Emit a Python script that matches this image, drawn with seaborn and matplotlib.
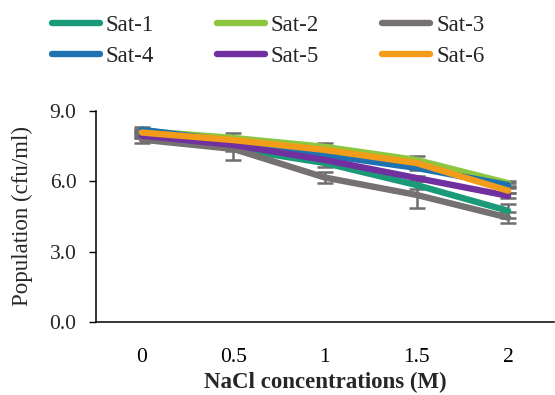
import numpy as np
import pandas as pd
import matplotlib
matplotlib.use("Agg")
import matplotlib.pyplot as plt
import seaborn as sns

# Data
conc = ["0", "0.5", "1", "1.5", "2"]
series = ["Sat-1", "Sat-2", "Sat-3", "Sat-4", "Sat-5", "Sat-6"]
sat1 = [8.00, 7.40, 6.78, 5.84, 4.74]
sat2 = [8.15, 7.85, 7.47, 6.91, 5.92]
sat3 = [7.78, 7.38, 6.16, 5.42, 4.45]
sat4 = [8.20, 7.70, 7.12, 6.57, 5.84]
sat5 = [7.95, 7.55, 6.91, 6.14, 5.38]
sat6 = [8.08, 7.76, 7.34, 6.78, 5.60]
err1 = [0.15, 0.10, 0.15, 0.18, 0.30]
err2 = [0.10, 0.20, 0.15, 0.15, 0.10]
err3 = [0.15, 0.45, 0.25, 0.58, 0.25]
err4 = [0.10, 0.10, 0.10, 0.10, 0.10]
err5 = [0.10, 0.10, 0.10, 0.10, 0.10]
err6 = [0.10, 0.15, 0.10, 0.10, 0.10]
colors = ["#1a9a78", "#8dc63f", "#767171", "#1f72b0", "#7030a0", "#f39c1a"]

values = [sat1, sat2, sat3, sat4, sat5, sat6]
errors = [err1, err2, err3, err4, err5, err6]

rows = []
for name, vals, errs in zip(series, values, errors):
    for i, (v, e) in enumerate(zip(vals, errs)):
        rows.append({"series": name, "x": i, "conc": conc[i], "value": v, "err": e})
df = pd.DataFrame(rows)

sns.set_theme(style="white")
plt.rcParams["font.family"] = ["Liberation Serif", "DejaVu Serif"]

fig = plt.figure(figsize=(5.55, 3.95), dpi=100)
ax = fig.add_axes([0.173, 0.185, 0.825, 0.534])

# error bars first so the thick lines sit mostly on top
for name in series:
    sub = df[df["series"] == name]
    ax.errorbar(sub["x"], sub["value"], yerr=sub["err"], fmt="none",
                ecolor="#6e6e6e", elinewidth=1.8, capsize=5.5, capthick=1.8,
                zorder=2)

sns.lineplot(data=df, x="x", y="value", hue="series", hue_order=series,
             palette=colors, linewidth=4.6, ax=ax, legend=False,
             solid_capstyle="round", zorder=3)

ax.set_xlim(-0.5, 4.5)
ax.set_ylim(0, 9)
ax.set_yticks([0, 3, 6, 9])
ax.set_yticklabels(["0.0", "3.0", "6.0", "9.0"])
ax.set_xticks(range(len(conc)))
ax.set_xticklabels(conc)
ax.set_xticks([0.5, 1.5, 2.5, 3.5, 4.5], minor=True)
ax.tick_params(axis="x", which="major", length=0, labelsize=15.5, pad=19, colors="black")
ax.tick_params(axis="x", which="minor", length=5, direction="in", width=1, color="black")
ax.tick_params(axis="y", length=5, direction="out", width=1, labelsize=15.5, color="black",
               left=True, pad=9)

for s in ["top", "right"]:
    ax.spines[s].set_visible(False)
for s in ["left", "bottom"]:
    ax.spines[s].set_color("black")
    ax.spines[s].set_linewidth(1.1)

ax.set_xlabel("NaCl concentrations (M)", fontsize=16.5, fontweight="bold", labelpad=3)
ax.set_ylabel("Population (cfu/ml)", fontsize=16.5, labelpad=12)

# legend filled row by row: Sat-1 Sat-2 Sat-3 / Sat-4 Sat-5 Sat-6
handles = [plt.Line2D([], [], color=c, linewidth=4.6, solid_capstyle="round") for c in colors]
order = [0, 3, 1, 4, 2, 5]
fig.legend([handles[i] for i in order], [series[i] for i in order],
           loc="upper center", bbox_to_anchor=(0.483, 1.0), ncol=3,
           frameon=False, fontsize=16.5, handlelength=2.1, handletextpad=0.25,
           columnspacing=2.75, labelspacing=0.45, borderaxespad=0.25)

fig.savefig("out.png", dpi=100)
